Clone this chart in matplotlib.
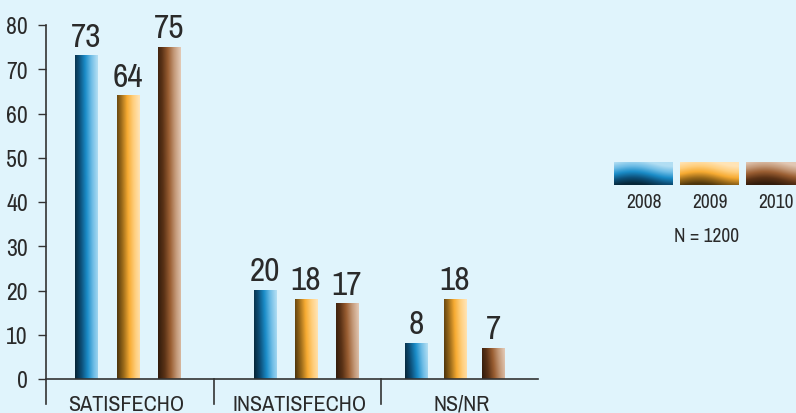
import numpy as np
import matplotlib
matplotlib.use("Agg")
import matplotlib.pyplot as plt
from matplotlib.colors import LinearSegmentedColormap
from matplotlib import font_manager as fm

categories = ["SATISFECHO", "INSATISFECHO", "NS/NR"]
years = ["2008", "2009", "2010"]
values = {
    "2008": [73, 20, 8],
    "2009": [64, 18, 18],
    "2010": [75, 17, 7],
}
yticks = [0, 10, 20, 30, 40, 50, 60, 70, 80]
note = "N = 1200"

# layout (pixel-like data units along x)
group_centers = [82, 260, 409]
group_spacing = [41.5, 41, 38.5]
label_centers = [80, 254, 416]
separators = [0, 168, 335]
bar_w = 23

cond = [f.name for f in fm.fontManager.ttflist
        if ("Narrow" in f.name or "Condensed" in f.name)]
fam = cond[:1] + ["Liberation Sans", "DejaVu Sans"]
plt.rcParams["font.family"] = fam
condensed = bool(cond)

bg = "#E0F4FC"
txt = "#2a2a2a"
cmaps = {
    "2008": LinearSegmentedColormap.from_list("c8", ["#062638", "#0d4f78", "#1a8cc8", "#6fbde6", "#b2def3"]),
    "2009": LinearSegmentedColormap.from_list("c9", ["#4f360c", "#9a6a1a", "#f7ab32", "#ffcf7e", "#ffe4b6"]),
    "2010": LinearSegmentedColormap.from_list("c10", ["#321c0c", "#5a3216", "#9a5e32", "#c49a7a", "#e2c8b4"]),
}

fs_val = 24 if condensed else 21
fs_tick = 17 if condensed else 15
fs_cat = 16 if condensed else 14
fs_leg = 14 if condensed else 13

W, H = 796, 414
fig = plt.figure(figsize=(W / 100, H / 100), dpi=100, facecolor=bg)
ax = fig.add_axes([46 / W, 34 / H, 492 / W, 354 / H], facecolor=bg)
ax.set_xlim(0, 492)
ax.set_ylim(0, 80)

gx = np.linspace(0, 1, 64)
gy = np.linspace(0, 1, 128)
X, Y = np.meshgrid(gx, gy)
grad_bar = np.clip(X * 0.92 + (1 - Y) * 0.12 - 0.02, 0, 1)

for gi, cat in enumerate(categories):
    for yi, yr in enumerate(years):
        v = values[yr][gi]
        cx = group_centers[gi] + (yi - 1) * group_spacing[gi]
        ax.imshow(grad_bar, cmap=cmaps[yr], extent=[cx - bar_w / 2, cx + bar_w / 2, 0, v],
                  origin="upper", aspect="auto", vmin=0, vmax=1, zorder=2, interpolation="bilinear")
        ax.annotate(str(v), (cx, v), xytext=(0, 3), textcoords="offset points",
                    ha="center", va="bottom", fontsize=fs_val, color=txt)
    ax.text(label_centers[gi], -3.3, cat, ha="center", va="top", fontsize=fs_cat, color=txt)

ax.set_xlim(0, 492)
ax.set_ylim(0, 80)

for s in ["top", "right", "left"]:
    ax.spines[s].set_visible(False)
ax.spines["bottom"].set_color("#333333")
ax.spines["bottom"].set_linewidth(1.2)
for sx in separators:
    ax.plot([sx, sx], [-5.6, 80 if sx == 0 else 0], color="#333333", lw=1.2, clip_on=False, zorder=3)

ax.set_xticks([])
ax.set_yticks(yticks)
ax.set_yticklabels([str(t) for t in yticks], fontsize=fs_tick, color=txt)
ax.tick_params(axis="y", length=6, width=1, color="#333333", pad=7)

# legend
lx = [614, 680, 746]
lw_, lh = 59, 23
lg_x = np.linspace(0, 1, 64)
lg_y = np.linspace(0, 1, 32)
LX, LY = np.meshgrid(lg_x, lg_y)
grad_leg = np.clip(1 - (LY * 0.95 + 0.12 * np.sin(LX * np.pi * 1.5) - 0.05 * LX), 0, 1)
for x0, yr in zip(lx, years):
    la = fig.add_axes([x0 / W, 1 - (163 + lh) / H, lw_ / W, lh / H])
    la.imshow(grad_leg, cmap=cmaps[yr], aspect="auto", vmin=0, vmax=1, interpolation="bilinear")
    la.axis("off")
    fig.text((x0 + 30) / W, 1 - 203 / H, yr, ha="center", va="center", fontsize=fs_leg, color=txt)
fig.text(707 / W, 1 - 237 / H, note, ha="center", va="center", fontsize=fs_leg, color=txt)

fig.savefig("out.png", dpi=100, facecolor=bg)
